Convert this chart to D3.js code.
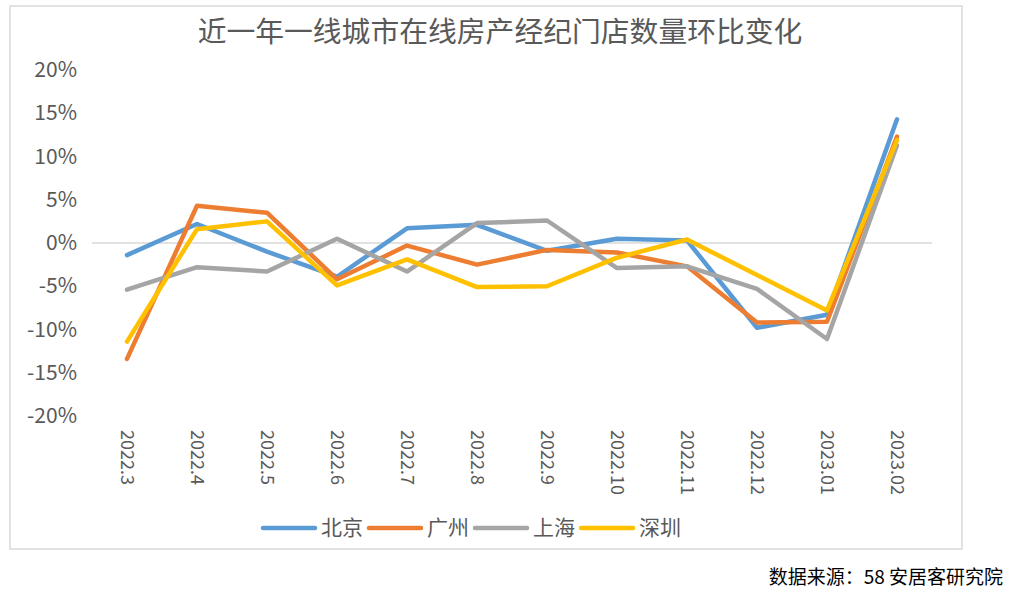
<html>
<meta charset="utf-8">
<style>
  body { margin: 0; background: #fff; }
  text { font-family: "Noto Sans CJK SC", "Noto Sans", sans-serif; }
</style>
<body>
<svg id="chart" width="1010" height="594"></svg>
<script src="https://cdn.jsdelivr.net/npm/d3@7/dist/d3.min.js"></script>
<script>
// data
var months = ["2022.3","2022.4","2022.5","2022.6","2022.7","2022.8","2022.9","2022.10","2022.11","2022.12","2023.01","2023.02"];
var cities = ["北京","广州","上海","深圳"];
var beijing  = [-1.4, 2.2, -1.0, -3.9, 1.7, 2.1, -0.9, 0.5, 0.3, -9.8, -8.3, 14.3];
var guangzhou = [-13.4, 4.3, 3.5, -4.2, -0.3, -2.5, -0.8, -1.1, -2.7, -9.2, -9.1, 12.3];
var shanghai = [-5.4, -2.8, -3.3, 0.5, -3.3, 2.3, 2.6, -2.9, -2.7, -5.3, -11.1, 11.3];
var shenzhen = [-11.4, 1.6, 2.5, -4.9, -1.9, -5.1, -5.0, -1.7, 0.4, -3.7, -7.8, 11.9];
var yTicks = [-20, -15, -10, -5, 0, 5, 10, 15, 20];
var colors = ["#5B9BD5", "#ED7D31", "#A5A5A5", "#FFC000"];

var series = [beijing, guangzhou, shanghai, shenzhen];

var svg = d3.select("#chart");

// chart frame
svg.append("rect")
  .attr("x", 10).attr("y", 6)
  .attr("width", 952).attr("height", 543)
  .attr("fill", "#fff")
  .attr("stroke", "#d9d9d9")
  .attr("stroke-width", 1.5);

svg.append("text")
  .attr("x", 500).attr("y", 42)
  .attr("text-anchor", "middle")
  .attr("font-size", "28.8px")
  .attr("fill", "#595959")
  .text("近一年一线城市在线房产经纪门店数量环比变化");

var x = d3.scalePoint().domain(months).range([92, 932]).padding(0.5);
var y = d3.scaleLinear().domain([-20, 20]).range([416, 70]);

// zero line
svg.append("line")
  .attr("x1", 92).attr("x2", 932)
  .attr("y1", y(0)).attr("y2", y(0))
  .attr("stroke", "#d9d9d9")
  .attr("stroke-width", 1.5);

// y axis
var yAxis = svg.append("g")
  .attr("transform", "translate(77,0)")
  .call(d3.axisLeft(y).tickValues(yTicks).tickSize(0).tickPadding(0)
    .tickFormat(function(d){ return d + "%"; }));
yAxis.select(".domain").remove();
yAxis.selectAll("text")
  .attr("font-family", "Noto Sans CJK SC, Noto Sans, sans-serif")
  .attr("font-size", "21px")
  .attr("fill", "#595959");

// x axis, labels rotated
var xAxis = svg.append("g")
  .attr("transform", "translate(0,430)")
  .call(d3.axisBottom(x).tickSize(0).tickPadding(0));
xAxis.select(".domain").remove();
xAxis.selectAll("text")
  .attr("font-family", "Noto Sans CJK SC, Noto Sans, sans-serif")
  .attr("font-size", "18px")
  .attr("fill", "#595959")
  .attr("text-anchor", "start")
  .attr("transform", "rotate(90)")
  .attr("x", 0)
  .attr("y", 0)
  .attr("dy", "0.35em");

// lines
var line = d3.line()
  .x(function(d, i){ return x(months[i]); })
  .y(function(d){ return y(d); });

svg.selectAll(".series")
  .data(series)
  .enter()
  .append("path")
  .attr("class", "series")
  .attr("d", line)
  .attr("fill", "none")
  .attr("stroke", function(d, i){ return colors[i]; })
  .attr("stroke-width", 4.5)
  .attr("stroke-linejoin", "round")
  .attr("stroke-linecap", "round");

// legend
var legend = svg.selectAll(".legend")
  .data(cities)
  .enter()
  .append("g")
  .attr("class", "legend")
  .attr("transform", function(d, i){ return "translate(" + (263 + i * 106) + ",528)"; });

legend.append("line")
  .attr("x1", 0).attr("x2", 52)
  .attr("stroke", function(d, i){ return colors[i]; })
  .attr("stroke-width", 4.5)
  .attr("stroke-linecap", "round");

legend.append("text")
  .attr("x", 58)
  .attr("dy", "0.35em")
  .attr("font-size", "21px")
  .attr("fill", "#595959")
  .text(function(d){ return d; });

// source
svg.append("text")
  .attr("x", 1003).attr("y", 584)
  .attr("text-anchor", "end")
  .attr("font-size", "19px")
  .attr("fill", "#000")
  .text("数据来源：58 安居客研究院");
</script>
</body>
</html>
